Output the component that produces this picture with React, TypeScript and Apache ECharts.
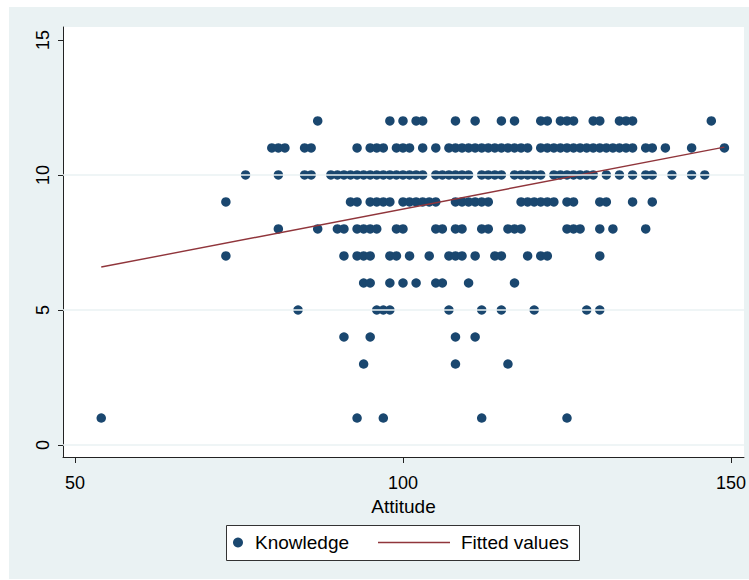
import React, { useEffect, useRef } from "react";
import * as echarts from "echarts";

// Attitude values observed at each Knowledge level
const attitudeK12 = [87, 98, 100, 102, 103, 108, 111, 115, 117, 121, 122, 124, 125, 126, 129, 130, 133, 134, 135, 147];
const attitudeK11 = [80, 81, 82, 85, 86, 93, 95, 96, 97, 99, 100, 101, 103, 105, 107, 108, 109, 110, 111, 112, 113, 114, 115, 116, 117, 118, 119, 121, 122, 123, 124, 125, 126, 127, 128, 129, 130, 131, 132, 133, 134, 135, 137, 138, 140, 144, 149];
const attitudeK10 = [76, 81, 85, 86, 89, 90, 91, 92, 93, 94, 95, 96, 97, 98, 99, 100, 101, 102, 103, 105, 106, 107, 108, 109, 110, 112, 113, 114, 115, 117, 118, 119, 120, 121, 123, 124, 125, 126, 127, 128, 129, 131, 133, 135, 137, 138, 141, 144, 146];
const attitudeK9 = [73, 92, 93, 95, 96, 97, 98, 100, 101, 102, 103, 104, 105, 108, 109, 110, 111, 112, 113, 118, 119, 120, 121, 122, 123, 125, 126, 130, 131, 135, 138];
const attitudeK8 = [81, 87, 90, 91, 93, 94, 95, 96, 99, 100, 105, 106, 108, 109, 112, 113, 116, 117, 118, 125, 126, 127, 130, 132, 137];
const attitudeK7 = [73, 91, 93, 94, 95, 98, 99, 101, 104, 107, 108, 109, 111, 114, 115, 119, 121, 122, 130];
const attitudeK6 = [94, 95, 98, 100, 102, 105, 106, 110, 117];
const attitudeK5 = [84, 96, 97, 98, 107, 112, 115, 120, 128, 130];
const attitudeK4 = [91, 95, 108, 111];
const attitudeK3 = [94, 108, 116];
const attitudeK1 = [54, 93, 97, 112, 125];

const knowledgeLevels = [12, 11, 10, 9, 8, 7, 6, 5, 4, 3, 1];
const attitudeByLevel = [attitudeK12, attitudeK11, attitudeK10, attitudeK9, attitudeK8, attitudeK7, attitudeK6, attitudeK5, attitudeK4, attitudeK3, attitudeK1];

// Fitted values (endpoints of the regression line)
const fittedX = [54, 149];
const fittedY = [6.59, 11.03];

const xTicks = [50, 100, 150];
const yTicks = [0, 5, 10, 15];
const yGrid = [0, 5, 10];

const seriesNames = ["Knowledge", "Fitted values"];

export default function App() {
  const ref = useRef<HTMLDivElement>(null);
  useEffect(() => {
    if (!ref.current) return;
    const chart = echarts.init(ref.current, undefined, { renderer: "svg" });
    const scatterData: number[][] = [];
    knowledgeLevels.forEach((k, i) => {
      attitudeByLevel[i].forEach((a) => scatterData.push([a, k]));
    });
    const fittedData = fittedX.map((x, i) => [x, fittedY[i]]);
    const font = "Liberation Sans, Arial, sans-serif";
    const navy = "#1a476f";
    const maroon = "#90353b";

    chart.setOption({
      animation: false,
      backgroundColor: "#ffffff",
      textStyle: { fontFamily: font },
      graphic: [
        {
          type: "rect",
          z: -100,
          silent: true,
          shape: { x: 9, y: 7, width: 740, height: 572 },
          style: { fill: "#eaf2f3" },
        },
        {
          type: "rect",
          z: 10,
          silent: true,
          shape: { x: 226.5, y: 525.5, width: 353, height: 35 },
          style: { fill: "#ffffff", stroke: "#333333", lineWidth: 1 },
        },
      ],
      grid: {
        left: 63,
        right: 5,
        top: 27,
        bottom: 123,
        show: true,
        backgroundColor: "#ffffff",
        borderWidth: 0,
      },
      xAxis: {
        type: "value",
        min: 48.17,
        max: 151.98,
        name: "Attitude",
        nameLocation: "middle",
        nameGap: 31,
        nameTextStyle: { fontSize: 19, color: "#000", fontFamily: font },
        axisLine: { show: true, onZero: false, lineStyle: { color: "#222", width: 1 } },
        axisTick: { show: true, length: 6, customValues: xTicks, lineStyle: { color: "#222" } },
        axisLabel: { customValues: xTicks, fontSize: 18, color: "#000", margin: 17, fontFamily: font },
        splitLine: { show: false },
      },
      yAxis: {
        type: "value",
        min: -0.444,
        max: 15.48,
        axisLine: { show: true, onZero: false, lineStyle: { color: "#222", width: 1 } },
        axisTick: { show: true, length: 5, customValues: yTicks, lineStyle: { color: "#222" } },
        axisLabel: { customValues: yTicks, rotate: 90, fontSize: 18, color: "#000", margin: 11, fontFamily: font },
        splitLine: { show: false },
      },
      legend: [
        {
          data: [{ name: seriesNames[0], icon: "circle" }],
          left: 233,
          top: 533,
          padding: 0,
          itemWidth: 10,
          itemHeight: 10,
          z: 20,
          selectedMode: false,
          textStyle: { fontSize: 19, color: "#000", fontFamily: font, padding: [0, 0, 0, 7] },
        },
        {
          data: [{ name: seriesNames[1], icon: "path://M0,0 L72,0 L72,1.5 L0,1.5 Z" }],
          left: 378,
          top: 533,
          padding: 0,
          itemWidth: 72,
          itemHeight: 1.5,
          z: 20,
          selectedMode: false,
          textStyle: { fontSize: 19, color: "#000", fontFamily: font, padding: [0, 0, 0, 6] },
        },
      ],
      series: [
        {
          name: "grid",
          type: "line",
          data: [],
          silent: true,
          z: 1,
          markLine: {
            silent: true,
            symbol: "none",
            label: { show: false },
            lineStyle: { color: "#eaf2f3", width: 1.5, type: "solid" },
            data: yGrid.map((v) => ({ yAxis: v })),
          },
        },
        {
          name: seriesNames[0],
          type: "scatter",
          data: scatterData,
          symbol: "circle",
          symbolSize: 9.5,
          z: 3,
          itemStyle: { color: navy, opacity: 1 },
        },
        {
          name: seriesNames[1],
          type: "line",
          data: fittedData,
          showSymbol: false,
          symbol: "none",
          z: 4,
          lineStyle: { color: maroon, width: 1.4 },
          itemStyle: { color: maroon },
        },
      ],
    });
    return () => chart.dispose();
  }, []);
  return (
    <div
      ref={ref}
      style={{ position: "absolute", left: 0, top: 0, width: 749, height: 580 }}
    />
  );
}
